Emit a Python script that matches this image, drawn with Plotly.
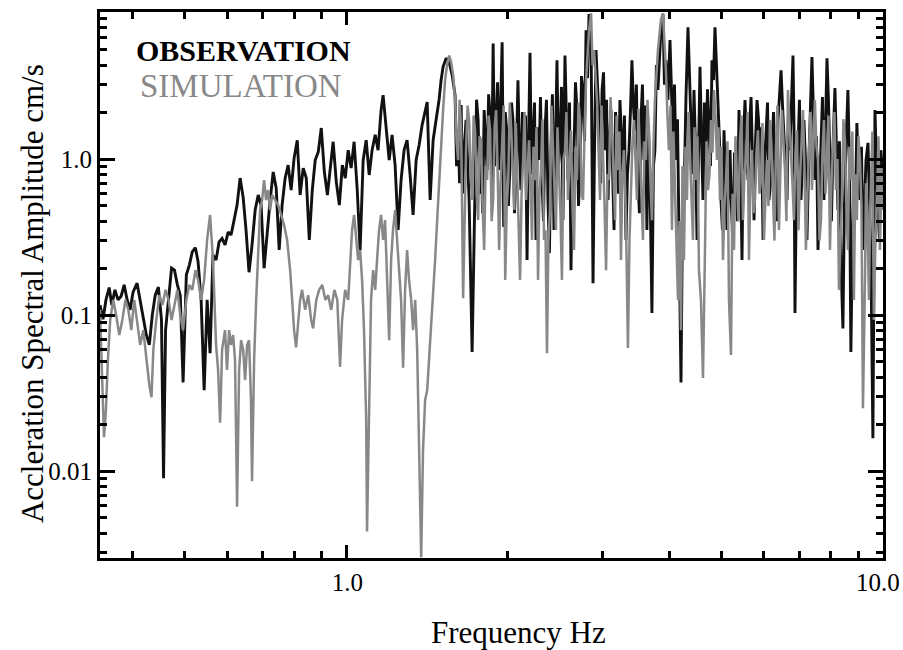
import math
import plotly.graph_objects as go

# ---------------- data ----------------
# Observation, 0.35 - 1.58 Hz
obs_freq_low = [
    0.348, 0.3525, 0.357, 0.362, 0.366, 0.371, 0.376, 0.381, 0.386, 0.391,
    0.396, 0.401, 0.408, 0.4135, 0.419, 0.4245, 0.430, 0.4355, 0.441, 0.447,
    0.453, 0.457, 0.461, 0.467, 0.473, 0.479, 0.485, 0.491, 0.497, 0.504,
    0.5105, 0.517, 0.524, 0.530, 0.537, 0.544, 0.551, 0.558, 0.565, 0.5725,
    0.580, 0.5875, 0.595, 0.603, 0.6105, 0.6185, 0.6265, 0.6347, 0.643, 0.651,
    0.6595, 0.668, 0.677, 0.686, 0.6945, 0.7035, 0.7125, 0.722, 0.7315, 0.741,
    0.7505, 0.760, 0.770, 0.780, 0.790, 0.800, 0.811, 0.821, 0.832, 0.843,
    0.854, 0.865, 0.876, 0.8875, 0.899, 0.911, 0.923, 0.934, 0.946, 0.959,
    0.9715, 0.984, 0.9965, 1.009, 1.022, 1.035, 1.049, 1.062, 1.076, 1.09,
    1.104, 1.118, 1.133, 1.147, 1.162, 1.172, 1.187, 1.203, 1.218, 1.234,
    1.25, 1.266, 1.2825, 1.299, 1.316, 1.333, 1.3505, 1.368, 1.3855, 1.4035,
    1.416, 1.434, 1.4525, 1.471, 1.49, 1.503, 1.516, 1.536, 1.556, 1.576,
]
obs_amp_low = [
    0.116, 0.094, 0.125, 0.15, 0.116, 0.145, 0.125, 0.132, 0.156, 0.125,
    0.108, 0.14, 0.16, 0.125, 0.093, 0.0745, 0.0643, 0.1, 0.134, 0.151,
    0.093, 0.009, 0.08, 0.125, 0.2, 0.194, 0.156, 0.134, 0.037, 0.181,
    0.209, 0.254, 0.27, 0.22, 0.125, 0.033, 0.125, 0.057, 0.243, 0.225,
    0.294, 0.31, 0.281, 0.34, 0.326, 0.406, 0.507, 0.755, 0.57, 0.351,
    0.188, 0.281, 0.471, 0.588, 0.507, 0.2, 0.34, 0.546, 0.826, 0.65,
    0.261, 0.507, 0.755, 0.915, 0.633, 1.01, 1.32, 0.588, 0.875, 0.755,
    0.303, 0.633, 0.985, 1.11, 1.58, 0.826, 0.588, 0.875, 1.29, 0.71,
    0.507, 0.915, 0.755, 1.14, 0.875, 1.29, 0.633, 0.261, 0.985, 1.32,
    0.79, 1.14, 1.43, 1.14, 2.06, 2.57, 1.53, 0.985, 1.43, 0.915,
    0.351, 0.733, 1.14, 1.32, 0.79, 0.438, 0.985, 1.23, 1.65, 2.06,
    2.32, 0.546, 1.32, 1.78, 2.39, 3.2, 3.9, 4.43, 4.18, 3.45,
]
# Observation, 1.6 - 10 Hz
obs_freq_high = [
    1.596, 1.606, 1.617, 1.627, 1.638, 1.648, 1.659, 1.673, 1.684, 1.695,
    1.717, 1.739, 1.75, 1.762, 1.773, 1.785, 1.796, 1.808, 1.82, 1.831,
    1.843, 1.855, 1.867, 1.879, 1.891, 1.903, 1.915, 1.928, 1.94, 1.953,
    1.966, 1.979, 1.992, 2.006, 2.02, 2.033, 2.046, 2.059, 2.072, 2.09,
    2.104, 2.117, 2.131, 2.145, 2.159, 2.173, 2.187, 2.201, 2.215, 2.23,
    2.244, 2.258, 2.273, 2.288, 2.302, 2.317, 2.332, 2.347, 2.362, 2.377,
    2.392, 2.408, 2.423, 2.439, 2.455, 2.471, 2.487, 2.503, 2.519, 2.535,
    2.557, 2.573, 2.59, 2.607, 2.624, 2.641, 2.658, 2.675, 2.692, 2.71,
    2.728, 2.745, 2.763, 2.781, 2.799, 2.817, 2.835, 2.86, 2.872, 2.884,
    2.902, 2.921, 2.94, 2.96, 2.979, 2.998, 3.017, 3.037, 3.056, 3.076,
    3.095, 3.115, 3.135, 3.156, 3.176, 3.196, 3.216, 3.237, 3.258, 3.279,
    3.3, 3.322, 3.343, 3.365, 3.386, 3.408, 3.43, 3.452, 3.474, 3.497,
    3.519, 3.542, 3.565, 3.588, 3.611, 3.634, 3.658, 3.682, 3.713, 3.737,
    3.761, 3.785, 3.81, 3.834, 3.859, 3.893, 3.918, 3.943, 3.977, 4.012,
    4.038, 4.064, 4.09, 4.116, 4.143, 4.17, 4.206, 4.233, 4.26, 4.297,
    4.334, 4.362, 4.39, 4.418, 4.447, 4.476, 4.505, 4.534, 4.563, 4.592,
    4.622, 4.652, 4.682, 4.712, 4.742, 4.773, 4.804, 4.835, 4.866, 4.897,
    4.929, 4.961, 4.993, 5.025, 5.058, 5.09, 5.123, 5.156, 5.19, 5.223,
    5.257, 5.291, 5.325, 5.359, 5.394, 5.429, 5.464, 5.5, 5.535, 5.571,
    5.607, 5.643, 5.68, 5.717, 5.754, 5.791, 5.828, 5.865, 5.902, 5.941,
    5.98, 6.018, 6.057, 6.096, 6.135, 6.175, 6.215, 6.255, 6.295, 6.336,
    6.377, 6.418, 6.46, 6.501, 6.543, 6.585, 6.628, 6.67, 6.712, 6.756,
    6.8, 6.829, 6.858, 6.902, 6.947, 6.991, 7.036, 7.081, 7.127, 7.173,
    7.22, 7.266, 7.313, 7.376, 7.423, 7.47, 7.52, 7.57, 7.618, 7.667,
    7.716, 7.766, 7.816, 7.867, 7.917, 7.968, 8.019, 8.07, 8.14, 8.193,
    8.246, 8.299, 8.352, 8.424, 8.478, 8.533, 8.606, 8.661, 8.717, 8.773,
    8.83, 8.887, 8.944, 9.003, 9.062, 9.121, 9.18, 9.24, 9.3, 9.38,
    9.44, 9.5, 9.58, 9.665, 9.727, 9.79, 9.852, 9.915, 10.0,
]
obs_amp_high = [
    2.57, 0.9, 1.53, 0.7, 2.22, 0.6, 1.14, 1.78, 0.9, 0.546,
    0.058, 0.733, 2.4, 1.78, 0.6, 1.14, 0.45, 2.06, 1.2, 0.85,
    2.6, 1.91, 0.7, 5.5, 0.9, 1.53, 3.1, 0.85, 2.2, 5.6,
    0.367, 2.0, 1.53, 0.5, 0.915, 2.3, 1.78, 0.45, 0.79, 3.2,
    1.1, 0.633, 2.0, 0.985, 1.9, 0.225, 1.3, 4.8, 0.8, 1.53,
    2.3, 0.303, 1.6, 0.985, 2.5, 0.733, 0.4, 1.53, 2.4, 0.546,
    0.25, 1.14, 2.6, 0.351, 1.5, 4.3, 0.9, 1.32, 2.9, 0.406,
    4.6, 1.6, 0.733, 2.3, 0.194, 0.9, 1.14, 3.1, 2.06, 0.5,
    0.85, 3.4, 2.77, 1.3, 6.7, 3.3, 8.5, 5.8, 1.5, 0.16,
    1.1, 5.0, 3.0, 1.78, 0.7, 2.77, 3.6, 1.14, 2.4, 0.546,
    1.3, 2.06, 0.9, 0.351, 2.0, 1.32, 0.6, 2.39, 1.4, 0.733,
    1.9, 0.303, 0.8, 1.14, 2.0, 4.3, 2.2, 1.53, 3.0, 0.733,
    0.45, 1.78, 3.0, 0.985, 2.2, 0.351, 1.6, 0.733, 0.103, 0.9,
    1.14, 4.0, 2.77, 4.5, 6.7, 8.5, 3.0, 4.3, 2.39, 5.8,
    2.6, 1.32, 3.0, 0.985, 1.8, 0.351, 0.037, 0.4, 0.546, 2.5,
    7.0, 3.5, 1.78, 0.8, 2.77, 1.2, 0.303, 1.5, 3.9, 1.4,
    0.546, 2.3, 0.985, 2.8, 1.78, 0.9, 4.3, 3.2, 7.0, 4.2,
    2.77, 1.3, 0.546, 0.35, 1.53, 0.7, 0.351, 0.6, 1.14, 0.5,
    0.261, 1.1, 0.733, 0.4, 2.06, 0.9, 0.225, 1.4, 2.39, 1.1,
    0.733, 1.6, 2.5, 1.0, 0.406, 1.3, 2.39, 1.8, 0.85, 1.6,
    0.303, 0.9, 1.53, 2.3, 0.546, 0.7, 1.14, 2.0, 0.733, 0.4,
    1.78, 2.4, 3.7, 2.2, 1.53, 0.9, 0.546, 2.0, 1.14, 2.3,
    4.6, 1.6, 0.103, 0.7, 1.14, 2.4, 0.546, 0.9, 1.78, 1.0,
    0.303, 0.8, 1.53, 4.5, 2.0, 0.733, 1.4, 0.261, 0.6, 1.32,
    2.5, 0.546, 1.6, 4.43, 2.4, 0.733, 0.4, 1.14, 2.85, 1.2,
    0.471, 1.3, 0.225, 0.082, 0.5, 1.14, 2.77, 1.0, 0.058, 0.3,
    0.733, 0.5, 1.7, 0.8, 0.546, 1.2, 0.261, 0.5, 0.985, 1.27,
    0.6, 0.225, 0.0162, 2.06, 0.9, 0.546, 0.3, 1.14, 0.733,
]

# Simulation, 0.35 - 1.57 Hz
sim_freq_low = [
    0.348, 0.351, 0.354, 0.357, 0.360, 0.3636, 0.3683, 0.373, 0.378, 0.383,
    0.388, 0.393, 0.398, 0.403, 0.408, 0.4135, 0.419, 0.4245, 0.430, 0.434,
    0.4375, 0.443, 0.449, 0.455, 0.461, 0.467, 0.473, 0.479, 0.485, 0.491,
    0.497, 0.504, 0.5105, 0.517, 0.524, 0.530, 0.537, 0.544, 0.551, 0.558,
    0.565, 0.5725, 0.5775, 0.5825, 0.5875, 0.595, 0.600, 0.6055, 0.6105, 0.616,
    0.621, 0.6265, 0.632, 0.6375, 0.643, 0.6485, 0.654, 0.6595, 0.665, 0.668,
    0.674, 0.680, 0.686, 0.6915, 0.6975, 0.7035, 0.7095, 0.7155, 0.722, 0.728,
    0.7375, 0.747, 0.757, 0.7665, 0.7765, 0.7866, 0.7935, 0.800, 0.807, 0.814,
    0.821, 0.828, 0.839, 0.850, 0.861, 0.868, 0.880, 0.891, 0.903, 0.915,
    0.926, 0.938, 0.951, 0.963, 0.9745, 0.983, 0.996, 1.009, 1.017, 1.026,
    1.035, 1.044, 1.053, 1.062, 1.071, 1.080, 1.090, 1.094, 1.104, 1.113,
    1.123, 1.133, 1.142, 1.152, 1.162, 1.172, 1.182, 1.192, 1.203, 1.213,
    1.223, 1.234, 1.244, 1.255, 1.266, 1.277, 1.288, 1.299, 1.310, 1.322,
    1.333, 1.345, 1.3565, 1.368, 1.38, 1.391, 1.4035, 1.416, 1.428, 1.4405,
    1.4525, 1.465, 1.478, 1.49, 1.503, 1.516, 1.529, 1.542, 1.556, 1.569,
]
sim_amp_low = [
    0.108, 0.0383, 0.0165, 0.0246, 0.0515, 0.093, 0.125, 0.1, 0.0745, 0.093,
    0.125, 0.108, 0.08, 0.125, 0.093, 0.0643, 0.08, 0.0515, 0.0356, 0.0297,
    0.06, 0.093, 0.134, 0.116, 0.145, 0.125, 0.093, 0.116, 0.145, 0.1,
    0.08, 0.125, 0.156, 0.145, 0.194, 0.168, 0.125, 0.168, 0.303, 0.438,
    0.225, 0.0643, 0.0444, 0.0204, 0.06, 0.08, 0.0444, 0.08, 0.0643, 0.0745,
    0.0515, 0.0059, 0.0444, 0.069, 0.06, 0.0383, 0.0643, 0.069, 0.0285, 0.0086,
    0.0515, 0.125, 0.261, 0.471, 0.546, 0.733, 0.546, 0.633, 0.471, 0.588,
    0.546, 0.507, 0.438, 0.378, 0.303, 0.194, 0.125, 0.08, 0.062, 0.093,
    0.125, 0.145, 0.108, 0.134, 0.093, 0.082, 0.125, 0.145, 0.156, 0.125,
    0.134, 0.108, 0.145, 0.125, 0.0465, 0.093, 0.145, 0.125, 0.225, 0.351,
    0.438, 0.303, 0.225, 0.261, 0.168, 0.08, 0.0212, 0.0041, 0.0285, 0.125,
    0.194, 0.145, 0.225, 0.351, 0.438, 0.303, 0.406, 0.168, 0.069, 0.225,
    0.351, 0.471, 0.303, 0.194, 0.125, 0.046, 0.145, 0.261, 0.168, 0.125,
    0.08, 0.125, 0.06, 0.0136, 0.0028, 0.0136, 0.0285, 0.033, 0.0515, 0.08,
    0.125, 0.225, 0.406, 0.733, 1.32, 2.06, 3.2, 4.0, 4.6, 4.18,
]
# Simulation, 1.58 - 10 Hz
sim_freq_high = [
    1.583, 1.596, 1.606, 1.617, 1.627, 1.638, 1.652, 1.662, 1.673, 1.684,
    1.695, 1.706, 1.717, 1.728, 1.739, 1.75, 1.762, 1.773, 1.785, 1.796,
    1.808, 1.82, 1.831, 1.843, 1.855, 1.867, 1.879, 1.891, 1.903, 1.915,
    1.928, 1.94, 1.953, 1.966, 1.979, 1.992, 2.005, 2.018, 2.031, 2.044,
    2.058, 2.071, 2.085, 2.097, 2.109, 2.123, 2.137, 2.15, 2.164, 2.178,
    2.192, 2.206, 2.22, 2.234, 2.249, 2.263, 2.278, 2.292, 2.307, 2.322,
    2.337, 2.352, 2.367, 2.382, 2.398, 2.413, 2.429, 2.444, 2.46, 2.476,
    2.492, 2.508, 2.524, 2.54, 2.557, 2.573, 2.59, 2.607, 2.624, 2.641,
    2.658, 2.675, 2.692, 2.71, 2.728, 2.745, 2.763, 2.781, 2.799, 2.835,
    2.86, 2.878, 2.896, 2.934, 2.953, 2.972, 2.991, 3.011, 3.03, 3.05,
    3.069, 3.089, 3.109, 3.129, 3.149, 3.17, 3.19, 3.21, 3.23, 3.251,
    3.272, 3.293, 3.322, 3.35, 3.372, 3.394, 3.416, 3.438, 3.46, 3.482,
    3.504, 3.527, 3.55, 3.573, 3.596, 3.619, 3.642, 3.666, 3.69, 3.713,
    3.737, 3.761, 3.81, 3.859, 3.893, 3.943, 3.968, 3.994, 4.02, 4.046,
    4.072, 4.098, 4.125, 4.152, 4.179, 4.206, 4.233, 4.26, 4.287, 4.315,
    4.343, 4.371, 4.4, 4.428, 4.456, 4.485, 4.514, 4.543, 4.582, 4.622,
    4.662, 4.692, 4.722, 4.753, 4.784, 4.815, 4.845, 4.876, 4.908, 4.94,
    4.972, 5.004, 5.036, 5.068, 5.101, 5.134, 5.167, 5.212, 5.246, 5.28,
    5.314, 5.348, 5.382, 5.417, 5.452, 5.487, 5.522, 5.558, 5.594, 5.63,
    5.666, 5.703, 5.74, 5.777, 5.814, 5.851, 5.889, 5.927, 5.965, 6.003,
    6.042, 6.081, 6.121, 6.161, 6.2, 6.24, 6.28, 6.32, 6.361, 6.402,
    6.443, 6.485, 6.527, 6.569, 6.611, 6.654, 6.697, 6.74, 6.784, 6.828,
    6.872, 6.916, 6.961, 7.006, 7.051, 7.096, 7.142, 7.188, 7.234, 7.281,
    7.328, 7.376, 7.423, 7.47, 7.52, 7.57, 7.618, 7.667, 7.716, 7.766,
    7.816, 7.867, 7.917, 7.968, 8.019, 8.07, 8.123, 8.176, 8.229, 8.282,
    8.335, 8.388, 8.442, 8.497, 8.551, 8.606, 8.661, 8.717, 8.773, 8.83,
    8.887, 8.944, 9.003, 9.062, 9.121, 9.18, 9.26, 9.3, 9.34, 9.42,
    9.46, 9.5, 9.56, 9.62, 9.685, 9.75, 9.81, 9.873, 9.936, 10.0,
]
sim_amp_high = [
    3.45, 2.39, 1.3, 0.985, 2.4, 1.53, 0.128, 0.5, 1.14, 2.2,
    1.78, 0.8, 0.546, 1.9, 1.53, 0.6, 0.406, 1.4, 1.32, 0.5,
    0.261, 0.9, 0.733, 1.9, 1.53, 0.4, 0.546, 1.6, 2.06, 0.9,
    0.261, 0.7, 1.14, 2.2, 0.168, 0.5, 0.733, 2.3, 1.53, 0.9,
    0.471, 1.7, 0.85, 0.35, 0.168, 0.6, 0.985, 2.0, 0.546, 0.9,
    1.32, 0.7, 0.303, 1.2, 0.733, 1.6, 0.168, 0.6, 0.85, 1.8,
    0.303, 0.35, 0.057, 0.3, 0.471, 2.2, 1.14, 0.5, 0.351, 1.6,
    0.85, 0.45, 0.168, 1.0, 1.14, 2.0, 0.546, 0.9, 1.53, 0.5,
    0.261, 1.2, 0.733, 2.3, 1.78, 0.6, 0.546, 1.5, 3.2, 6.7,
    8.6, 4.0, 5.0, 2.39, 1.2, 0.546, 2.2, 1.14, 0.5, 0.194,
    0.8, 0.733, 2.5, 1.53, 0.7, 0.406, 1.9, 0.85, 1.5, 0.225,
    0.8, 1.14, 0.406, 0.0615, 0.3, 0.733, 1.3, 1.78, 0.9, 0.546,
    2.1, 1.14, 0.6, 0.303, 1.3, 0.985, 2.4, 1.53, 0.7, 0.406,
    1.2, 2.39, 5.0, 7.8, 8.6, 3.7, 1.9, 1.14, 2.2, 0.351,
    1.5, 0.733, 0.3, 0.125, 0.4, 0.08, 0.9, 0.225, 1.2, 0.546,
    2.0, 1.14, 0.5, 0.303, 1.6, 0.733, 1.4, 0.194, 0.125, 0.0395,
    0.261, 1.3, 0.633, 0.8, 1.78, 1.1, 2.77, 1.9, 0.985, 1.6,
    0.546, 1.2, 0.225, 0.5, 0.733, 1.3, 0.125, 0.0555, 0.6, 0.261,
    1.4, 0.733, 0.4, 1.32, 1.9, 0.406, 0.8, 0.985, 2.0, 0.225,
    0.7, 1.14, 0.45, 0.546, 1.1, 1.53, 0.6, 0.733, 1.7, 0.303,
    0.6, 0.985, 0.5, 1.78, 1.2, 0.546, 0.3, 1.14, 2.2, 0.351,
    0.9, 2.06, 1.3, 0.85, 0.4, 2.77, 1.7, 1.14, 0.7, 0.406,
    1.1, 1.53, 0.35, 0.733, 1.4, 2.06, 0.9, 0.261, 0.6, 1.14,
    2.0, 0.633, 1.3, 2.39, 1.2, 0.985, 0.3, 0.406, 1.1, 1.78,
    0.6, 0.85, 1.9, 0.261, 0.7, 1.32, 2.0, 0.633, 1.0, 0.145,
    0.3, 0.546, 1.8, 1.32, 0.5, 0.261, 1.2, 0.733, 1.5, 0.125,
    0.8, 0.406, 1.4, 0.985, 0.5, 0.0253, 0.168, 0.7, 0.546, 0.125,
    0.4, 0.85, 1.5, 0.093, 0.3, 0.546, 1.4, 0.261, 0.9, 0.471,
]

obs_freq = obs_freq_low + obs_freq_high
obs_amp = obs_amp_low + obs_amp_high
sim_freq = sim_freq_low + sim_freq_high
sim_amp = sim_amp_low + sim_amp_high

x_tick_vals = [1.0, 10.0]
x_tick_text = ["\u00a0\u00a01.0", "10.0"]
x_minor_vals = [0.4, 0.5, 0.6, 0.7, 0.8, 0.9, 2, 3, 4, 5, 6, 7, 8, 9]
y_tick_vals = [0.01, 0.1, 1.0]
y_tick_text = ["0.01", "0.1", "1.0"]
y_minor_vals = [0.003, 0.004, 0.005, 0.006, 0.007, 0.008, 0.009,
                0.02, 0.03, 0.04, 0.05, 0.06, 0.07, 0.08, 0.09,
                0.2, 0.3, 0.4, 0.5, 0.6, 0.7, 0.8, 0.9,
                2, 3, 4, 5, 6, 7, 8]
x_range = [0.348, 10.004]
y_range = [0.00277, 8.76]

FONT = "Liberation Serif, Times New Roman, serif"

fig = go.Figure()
fig.add_trace(go.Scatter(x=obs_freq, y=obs_amp, mode="lines",
                         line=dict(color="#111111", width=2.9), showlegend=False))
fig.add_trace(go.Scatter(x=sim_freq, y=sim_amp, mode="lines",
                         line=dict(color="#888888", width=2.5), showlegend=False))

axis_common = dict(
    type="log", ticks="inside", tickwidth=3, tickcolor="black",
    showline=True, linewidth=3, linecolor="black", mirror="allticks",
    showgrid=False, zeroline=False, ticklabeloverflow="allow",
    automargin=False,
    tickfont=dict(family=FONT, size=25, color="black"),
)

fig.update_xaxes(
    range=[math.log10(x_range[0]), math.log10(x_range[1])],
    tickmode="array", tickvals=x_tick_vals, ticktext=x_tick_text,
    ticklen=13, ticklabelstandoff=0, ticklabelshift=-5,
    minor=dict(tickmode="array", tickvals=x_minor_vals, ticks="inside",
               ticklen=7, tickwidth=2.5, tickcolor="black", showgrid=False),
    **axis_common,
)
fig.update_yaxes(
    range=[math.log10(y_range[0]), math.log10(y_range[1])],
    tickmode="array", tickvals=y_tick_vals, ticktext=y_tick_text,
    ticklen=15, ticklabelstandoff=0,
    minor=dict(tickmode="array", tickvals=y_minor_vals, ticks="inside",
               ticklen=7, tickwidth=2.5, tickcolor="black", showgrid=False),
    **axis_common,
)

annotations = [
    dict(text="Accleration Spectral Amplitude cm/s", textangle=-90,
         xref="paper", yref="paper", x=-0.087, y=0.485,
         xanchor="center", yanchor="middle", showarrow=False,
         font=dict(family=FONT, size=31, color="black")),
    dict(text="Frequency Hz", xref="paper", yref="paper", x=0.534, y=-0.136,
         xanchor="center", yanchor="middle", showarrow=False,
         font=dict(family=FONT, size=31, color="black")),
    dict(text="<b>OBSERVATION</b>", xref="paper", yref="paper", x=0.043, y=0.930,
         xanchor="left", yanchor="middle", showarrow=False,
         font=dict(family=FONT, size=30, color="black")),
    dict(text="SIMULATION", xref="paper", yref="paper", x=0.049, y=0.864,
         xanchor="left", yanchor="middle", showarrow=False,
         font=dict(family=FONT, size=33, color="#888888")),
]

fig.update_layout(
    width=903, height=650,
    margin=dict(l=100, r=20, t=12, b=92, autoexpand=False),
    paper_bgcolor="white", plot_bgcolor="white",
    annotations=annotations, showlegend=False,
)

fig.write_html("out.html")
